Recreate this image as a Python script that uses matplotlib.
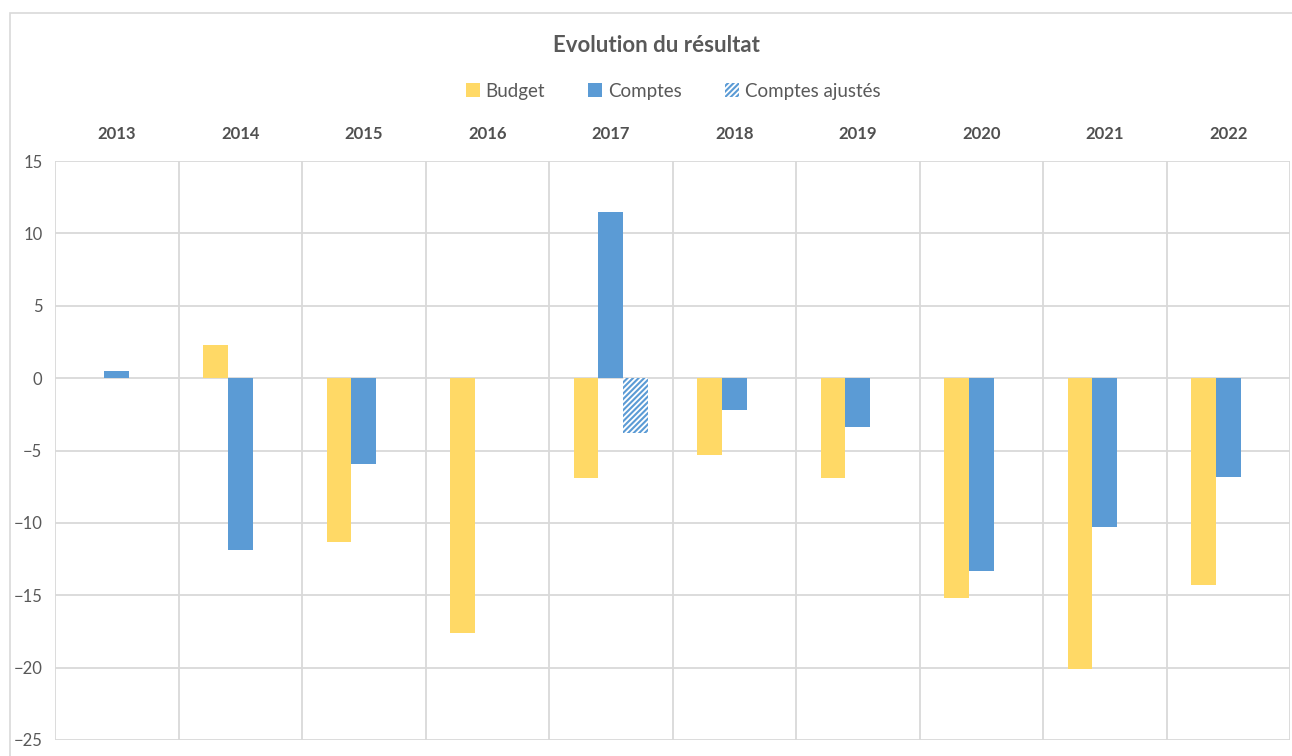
import matplotlib.pyplot as plt
import numpy as np
from matplotlib.patches import Rectangle

plt.rcParams['font.family'] = ['Lato', 'DejaVu Sans']
plt.rcParams['hatch.linewidth'] = 1.5

years = ['2013', '2014', '2015', '2016', '2017', '2018', '2019', '2020', '2021', '2022']
budget = [np.nan, 2.3, -11.3, -17.6, -6.9, -5.3, -6.9, -15.2, -20.1, -14.3]
comptes = [0.5, -11.9, -5.9, np.nan, 11.5, -2.2, -3.4, -13.3, -10.3, -6.8]
comptes_ajustes = [np.nan, np.nan, np.nan, np.nan, -3.8, np.nan, np.nan, np.nan, np.nan, np.nan]

yellow = '#FFD966'
blue = '#5B9BD5'
grid_col = '#D9D9D9'
text_col = '#595959'

fig = plt.figure(figsize=(12.92, 7.56), dpi=100, facecolor='white')

# outer chart frame
fig.patches.append(Rectangle((10 / 1292, -0.05), 1.1, 1.05 - 13 / 756, transform=fig.transFigure,
                             fill=False, edgecolor=grid_col, linewidth=1.2))

ax = fig.add_axes([55 / 1292, 16 / 756, 1235 / 1292, 579 / 756])

x = np.arange(len(years))
w = 0.2
ax.bar(x - w, budget, w, color=yellow, label='Budget', zorder=3)
ax.bar(x, comptes, w, color=blue, label='Comptes', zorder=3)
ax.bar(x + w, comptes_ajustes, w, color='white', edgecolor=blue, hatch='//////',
       linewidth=0, label='Comptes ajustés', zorder=3)

ax.set_xlim(-0.5, len(years) - 0.5)
ax.set_ylim(-25, 15)
ax.set_yticks(np.arange(-25, 16, 5))

# grid: horizontal at ticks, vertical between categories
for v in np.arange(-25, 16, 5):
    ax.axhline(v, color=grid_col, linewidth=1.3, zorder=1)
for b in np.arange(-0.5, len(years), 1):
    ax.axvline(b, color=grid_col, linewidth=1.3, zorder=1)

for s in ax.spines.values():
    s.set_visible(False)

ax.xaxis.tick_top()
ax.set_xticks(x)
ax.set_xticklabels(years, fontweight='bold', fontsize=12, color='#505050')
ax.tick_params(axis='x', length=0, pad=14)
ax.tick_params(axis='y', length=0, pad=9, labelsize=12, labelcolor=text_col)

fig.text(0.508, 1 - 45 / 756, 'Evolution du résultat', ha='center', va='center',
         fontsize=16, fontweight='bold', color=text_col)

fig.legend(loc='center', bbox_to_anchor=(0.521, 1 - 91 / 756), ncol=3, frameon=False,
           fontsize=13.5, handlelength=0.75, handleheight=0.75, handletextpad=0.3,
           columnspacing=2.3, labelcolor=text_col)

fig.savefig('out.png', dpi=100, facecolor='white')
